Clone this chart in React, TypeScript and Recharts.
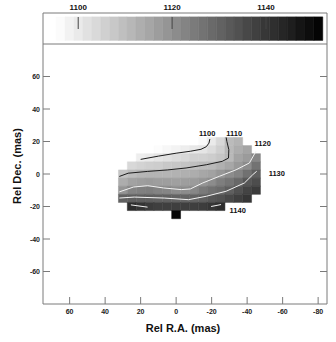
import { ScatterChart, Scatter, XAxis, YAxis, ReferenceArea } from "recharts";

// axis ticks (mas) and colour bar ticks (km/s)
const xTicks = [60, 40, 20, 0, -20, -40, -60, -80];
const yTicks = [60, 40, 20, 0, -20, -40, -60];
const cbTicks = [1100, 1120, 1140];

// colour bar steps (lower edges), last one ends at cbEnd
const cbSteps = [
  1095.3, 1097.2, 1099.1, 1101.0, 1102.9, 1104.8, 1106.7, 1108.6, 1110.4, 1112.3,
  1114.2, 1116.1, 1118.0, 1119.9, 1121.8, 1123.7, 1125.6, 1127.5, 1129.4, 1131.3,
  1133.2, 1135.1, 1136.9, 1138.8, 1140.7, 1142.6, 1144.5, 1146.4, 1148.3, 1150.2,
];
const cbEnd = 1152.1;

// velocity map: 5 mas pixels
const cellX = [30, 25, 20, 15, 10, 5, 0, -5, -10, -15, -20, -25, -30, -35, -40, -45];
const cellY = [20, 15, 10, 5, 0, -5, -10, -15, -20, -25];
const _ = null;
const velocity: (number | null)[][] = [
  [_, _, _, _, _, 1094, 1094, 1094, 1094.5, 1096.5, 1100, 1104, 1110.5, 1112, _, _],
  [_, _, _, 1095, 1096, 1097, 1098, 1099, 1100.5, 1101, 1103, 1106, 1111, 1113.5, 1115.5, _],
  [_, _, 1099, 1100, 1101, 1102, 1103, 1104, 1105.5, 1105.5, 1106.5, 1108, 1111, 1115.5, 1117.5, 1122],
  [_, 1104, 1105, 1106, 1106.5, 1107.5, 1108, 1108.5, 1109.5, 1110.5, 1111, 1113, 1115, 1118, 1121, 1126.5],
  [1108.5, 1110.3, 1111.5, 1112, 1112, 1112, 1112.5, 1113, 1113.5, 1115, 1116, 1118.5, 1121, 1123, 1127, 1131],
  [1113.5, 1116, 1117, 1117.5, 1117, 1117, 1116.5, 1117, 1117.5, 1119, 1121, 1124, 1126, 1129, 1133, 1135],
  [1119, 1123, 1123.5, 1124, 1123, 1122.5, 1121, 1121, 1122, 1125, 1127, 1128.5, 1131, 1134, 1137, 1139],
  [1130.5, 1131, 1131, 1131, 1130.5, 1130.5, 1130, 1129.5, 1130, 1131, 1133, 1134, 1136, 1138, 1140, _],
  [_, 1142, 1140.5, 1139, 1138, 1138, 1138, 1138, 1138, 1138.5, 1140, 1142, _, _, _, _],
  [_, _, _, _, _, _, 1151, _, _, _, _, _, _, _, _, _],
];

// contour paths [x, y] in mas
const c1100 = [[20, 9], [10, 11], [0, 12.8], [-8, 14], [-14, 15.2], [-17, 16.8], [-18.5, 19], [-19, 21.5]];
const c1110 = [[32, -1.5], [27, 0.5], [16, 1.6], [5, 2.5], [-5.6, 3.7], [-17, 5.7], [-26, 7.8], [-29.5, 9.8], [-29.7, 15], [-28.6, 20], [-28.2, 22.5]];
const c1120 = [[32, -11], [24, -8], [16, -7.2], [7, -8.6], [-3, -9.6], [-8, -9.2], [-15, -5.5], [-24.4, -1.4], [-33.8, 2.6], [-41.3, 6.8], [-45, 14]];
const c1130 = [[32, -14.8], [23.6, -14.2], [6.7, -14.8], [-7, -15.8], [-17, -13.7], [-28.2, -10.6], [-38.5, -5.5], [-43.2, -0.4], [-45.4, 1.7]];
const c1140a = [[25.5, -19], [16.1, -20.4]];
const c1140b = [[-19.7, -20], [-25.3, -18.8]];

const contourLabels = [
  { x: -17.5, y: 25.2, text: "1100" },
  { x: -32.7, y: 25.2, text: "1110" },
  { x: -48.8, y: 19, text: "1120" },
  { x: -56.7, y: 0.6, text: "1130" },
  { x: -34.7, y: -22.2, text: "1140" },
];

const font = "'Liberation Sans', Arial, Helvetica, sans-serif";
const frame = "#7a7a7a";
const vMin = 1095.3;
const vMax = 1152.1;

const grey = (v: number) => {
  const g = Math.round(255 * (1 - (v - vMin) / (vMax - vMin)));
  const c = Math.max(0, Math.min(255, g));
  return `rgb(${c},${c},${c})`;
};

const toPts = (arr: number[][]) => arr.map(([x, y]) => ({ x, y }));

const NoDot = () => <g />;

const LabelDot = (props: any) => {
  const { cx, cy, payload } = props;
  return (
    <text x={cx} y={cy + 2.7} textAnchor="middle" fontSize={7.5} fontWeight="bold" fontFamily={font} fill="#111">
      {payload.text}
    </text>
  );
};

const BottomTick = (props: any) => {
  const { x, y, payload } = props;
  return (
    <g>
      <line x1={x} y1={y} x2={x} y2={y - 7} stroke={frame} />
      <text x={x} y={y + 9.5} textAnchor="middle" fontSize={7} fontWeight="bold" fontFamily={font} fill="#222">
        {payload.value}
      </text>
    </g>
  );
};

const TopTick = (props: any) => {
  const { x, y } = props;
  return <line x1={x} y1={y} x2={x} y2={y + 7} stroke={frame} />;
};

const LeftTick = (props: any) => {
  const { x, y, payload } = props;
  return (
    <g>
      <line x1={x} y1={y} x2={x + 7} y2={y} stroke={frame} />
      <text x={x - 3} y={y + 2.5} textAnchor="end" fontSize={7} fontWeight="bold" fontFamily={font} fill="#222">
        {payload.value}
      </text>
    </g>
  );
};

const RightTick = (props: any) => {
  const { x, y } = props;
  return <line x1={x} y1={y} x2={x - 7} y2={y} stroke={frame} />;
};

const CbTick = (props: any) => {
  const { x, y, payload } = props;
  return (
    <g>
      <line x1={x} y1={y + 4} x2={x} y2={y + 16} stroke="#444" />
      <text x={x} y={y - 3} textAnchor="middle" fontSize={8} fontWeight="bold" fontFamily={font} fill="#111">
        {payload.value}
      </text>
    </g>
  );
};

const contours = [
  { pts: c1100, color: "#1c1c1c" },
  { pts: c1110, color: "#1c1c1c" },
  { pts: c1120, color: "#f2f2f2" },
  { pts: c1130, color: "#f2f2f2" },
  { pts: c1140a, color: "#f2f2f2" },
  { pts: c1140b, color: "#f2f2f2" },
];

const ColourBar = () => (
  <ScatterChart width={336} height={45} margin={{ top: 12, right: 8, bottom: 1, left: 42 }}>
    <XAxis
      xAxisId="cb"
      type="number"
      dataKey="x"
      orientation="top"
      domain={[1092.5, 1153]}
      allowDataOverflow
      ticks={cbTicks}
      interval={0}
      height={1}
      tickSize={0}
      tickMargin={0}
      tickLine={false}
      axisLine={{ stroke: frame }}
      tick={CbTick}
    />
    <YAxis yAxisId="cby" type="number" dataKey="y" domain={[0, 1]} allowDataOverflow width={1} tick={false} tickLine={false} axisLine={{ stroke: frame }} />
    <YAxis yAxisId="cbr" orientation="right" type="number" domain={[0, 1]} allowDataOverflow width={1} tick={false} tickLine={false} axisLine={{ stroke: frame }} />
    {cbSteps.map((lo, i) => {
      const hi = i + 1 < cbSteps.length ? cbSteps[i + 1] : cbEnd;
      const c = grey((lo + hi) / 2);
      return (
        <ReferenceArea
          key={i}
          xAxisId="cb"
          yAxisId="cby"
          x1={lo}
          x2={hi}
          y1={0.115}
          y2={0.875}
          fill={c}
          fillOpacity={1}
          stroke={c}
          strokeWidth={0.5}
        />
      );
    })}
    <Scatter xAxisId="cb" yAxisId="cby" data={[]} isAnimationActive={false} />
  </ScatterChart>
);

const VelocityMap = () => (
  <ScatterChart width={336} height={342} margin={{ top: 43, right: 8, bottom: 37, left: 42 }}>
    <XAxis
      xAxisId="b"
      type="number"
      dataKey="x"
      domain={[-85, 75]}
      reversed
      allowDataOverflow
      ticks={xTicks}
      interval={0}
      height={1}
      tickSize={0}
      tickMargin={0}
      tickLine={false}
      axisLine={{ stroke: frame }}
      tick={BottomTick}
    />
    <XAxis
      xAxisId="t"
      orientation="top"
      type="number"
      domain={[-85, 75]}
      reversed
      allowDataOverflow
      ticks={xTicks}
      interval={0}
      height={1}
      tickSize={0}
      tickMargin={0}
      tickLine={false}
      axisLine={{ stroke: frame }}
      tick={TopTick}
    />
    <YAxis
      yAxisId="l"
      type="number"
      dataKey="y"
      domain={[-80, 80]}
      allowDataOverflow
      ticks={yTicks}
      interval={0}
      width={1}
      tickSize={0}
      tickMargin={0}
      tickLine={false}
      axisLine={{ stroke: frame }}
      tick={LeftTick}
    />
    <YAxis
      yAxisId="r"
      orientation="right"
      type="number"
      domain={[-80, 80]}
      allowDataOverflow
      ticks={yTicks}
      interval={0}
      width={1}
      tickSize={0}
      tickMargin={0}
      tickLine={false}
      axisLine={{ stroke: frame }}
      tick={RightTick}
    />
    {velocity.map((row, ri) =>
      row.map((v, ci) => {
        if (v === null) return null;
        const c = grey(v);
        return (
          <ReferenceArea
            key={`${ri}-${ci}`}
            xAxisId="b"
            yAxisId="l"
            x1={cellX[ci] + 2.5}
            x2={cellX[ci] - 2.5}
            y1={cellY[ri] - 2.5}
            y2={cellY[ri] + 2.5}
            fill={c}
            fillOpacity={1}
            stroke={c}
            strokeWidth={0.5}
          />
        );
      })
    )}
    {contours.map((c, i) => (
      <Scatter
        key={i}
        xAxisId="b"
        yAxisId="l"
        data={toPts(c.pts)}
        line={{ stroke: c.color, strokeWidth: 1 }}
        shape={NoDot}
        isAnimationActive={false}
      />
    ))}
    <Scatter xAxisId="b" yAxisId="l" data={contourLabels} shape={LabelDot} isAnimationActive={false} />
    <Scatter xAxisId="t" yAxisId="r" data={[]} isAnimationActive={false} />
  </ScatterChart>
);

const titleStyle = {
  position: "absolute" as const,
  fontFamily: font,
  fontWeight: "bold" as const,
  fontSize: 11,
  lineHeight: "12px",
  color: "#111",
  textAlign: "center" as const,
  whiteSpace: "nowrap" as const,
};

export default function App() {
  return (
    <div style={{ position: "absolute", left: 0, top: 0, width: 336, height: 342, background: "#fff" }}>
      <div style={{ position: "absolute", left: 0, top: 0 }}>
        <VelocityMap />
      </div>
      <div style={{ position: "absolute", left: 0, top: 0 }}>
        <ColourBar />
      </div>
      <div style={{ ...titleStyle, left: 83, top: 322, width: 200 }}>Rel R.A. (mas)</div>
      <div style={{ ...titleStyle, left: -43, top: 160, width: 120, transform: "rotate(-90deg)" }}>Rel Dec. (mas)</div>
    </div>
  );
}
